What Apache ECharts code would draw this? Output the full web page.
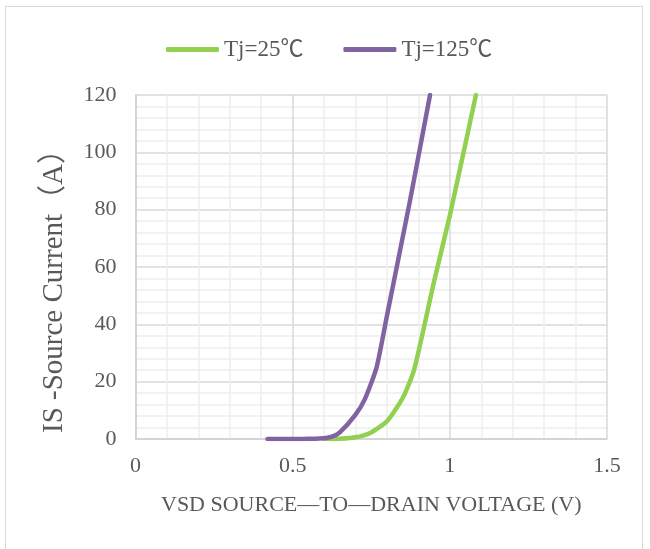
<!DOCTYPE html>
<html>
<head>
<meta charset="utf-8">
<script src="https://cdn.jsdelivr.net/npm/echarts@6/dist/echarts.min.js"></script>
<style>
html,body{margin:0;padding:0;background:#fff;}
#chart{width:650px;height:549px;}
</style>
</head>
<body>
<div id="chart"></div>
<script>
// Data
const seriesNames = ['Tj=25℃', 'Tj=125℃'];
const vsd25 = [0.60, 0.65, 0.70, 0.75, 0.80, 0.85, 0.886, 0.95, 1.00, 1.083];
const is25  = [0,    0.1,  0.6,  2.3,  6.2,  14.3, 24,    55,   78,   120];
const vsd125 = [0.42, 0.50, 0.55, 0.60, 0.625, 0.65, 0.70, 0.73, 0.767, 0.80, 0.873, 0.937];
const is125  = [0,    0,    0.1,  0.3,  0.8,   2.3,  8.5,  14,   25,    43,   83,    120];
const xTicks = [0, 0.5, 1, 1.5];
const yTicks = [0, 20, 40, 60, 80, 100, 120];
const xTitle = 'VSD SOURCE—TO—DRAIN VOLTAGE (V)';
const yTitle = 'IS -Source Current（A）';

const FONT = "'Liberation Serif', 'Noto Sans CJK SC', serif";
const TXT = '#595959';

function pairs(xs, ys) { return xs.map((x, i) => [x, ys[i]]); }

const chart = echarts.init(document.getElementById('chart'));
chart.setOption({
  animation: false,
  backgroundColor: '#fff',
  grid: { left: 135.5, right: 43, top: 95, bottom: 110, containLabel: false },
  legend: {
    left: 161, top: 33,
    icon: 'roundRect', itemWidth: 53, itemHeight: 5, itemGap: 40,
    textStyle: { fontFamily: FONT, fontSize: 23, color: TXT },
    data: seriesNames
  },
  xAxis: {
    type: 'value', min: xTicks[0], max: xTicks[xTicks.length - 1], interval: 0.5,
    name: xTitle, nameLocation: 'middle', nameGap: 55,
    nameTextStyle: { fontFamily: FONT, fontSize: 22, color: TXT },
    axisLine: { show: true, onZero: false, lineStyle: { color: '#d0d0d0', width: 1.5 } },
    axisTick: { show: false },
    axisLabel: { fontFamily: FONT, fontSize: 22, color: TXT, margin: 16 },
    splitLine: { show: true, lineStyle: { color: '#d9d9d9', width: 1.5 } },
    minorTick: { show: false, splitNumber: 5 },
    minorSplitLine: { show: true, lineStyle: { color: '#eeeeee', width: 1.5 } }
  },
  yAxis: {
    type: 'value', min: yTicks[0], max: yTicks[yTicks.length - 1], interval: 20,
    axisLine: { show: true, lineStyle: { color: '#d0d0d0', width: 1.5 } },
    axisTick: { show: false },
    axisLabel: { fontFamily: FONT, fontSize: 22, color: TXT, margin: 19 },
    splitLine: { show: true, lineStyle: { color: '#d9d9d9', width: 1.5 } },
    minorTick: { show: false, splitNumber: 5 },
    minorSplitLine: { show: true, lineStyle: { color: '#eeeeee', width: 1.5 } }
  },
  graphic: [
    { type: 'rect', z: -10, shape: { x: 5.5, y: 6.5, width: 637, height: 570 },
      style: { fill: 'none', stroke: '#d9d9d9', lineWidth: 1 } },
    { type: 'text', x: 54, y: 284, rotation: Math.PI / 2,
      style: { text: yTitle, font: "29px 'Liberation Serif', 'Noto Sans CJK SC', serif",
               fill: TXT, textAlign: 'center', textVerticalAlign: 'middle' } }
  ],
  series: [
    { name: seriesNames[0], type: 'line', data: pairs(vsd25, is25), smooth: 0.2,
      showSymbol: false, color: '#92D050', lineStyle: { width: 4.5, cap: 'round', join: 'round' } },
    { name: seriesNames[1], type: 'line', data: pairs(vsd125, is125), smooth: 0.2,
      showSymbol: false, color: '#8064A2', lineStyle: { width: 4.5, cap: 'round', join: 'round' } }
  ]
});
</script>
</body>
</html>
